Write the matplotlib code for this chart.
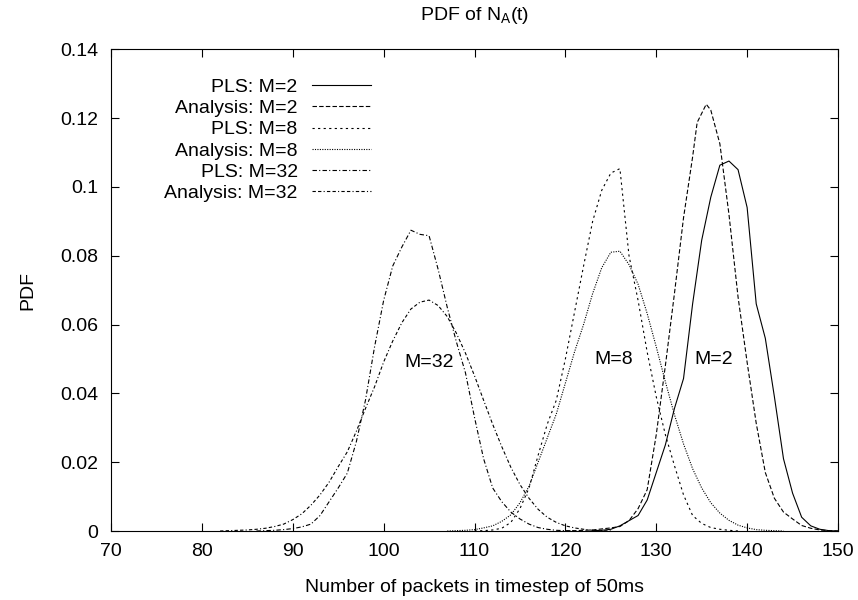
import matplotlib
matplotlib.use("Agg")
import matplotlib.pyplot as plt
from matplotlib.ticker import FuncFormatter, MultipleLocator

plt.rcParams["font.family"] = ["Liberation Sans", "DejaVu Sans"]

# PLS, M=2 (simulated histogram)
x_pls2 = list(range(123, 151))
y_pls2 = [0.0001, 0.0002, 0.0005, 0.0015, 0.003, 0.0045, 0.009, 0.017, 0.025,
          0.0356, 0.0443, 0.066, 0.0845, 0.097, 0.1063, 0.1075, 0.105, 0.094,
          0.066, 0.056, 0.039, 0.021, 0.011, 0.004, 0.0015, 0.0005, 0.0001, 0.0]

# Analysis, M=2
x_ana2 = [120, 121, 122, 123, 124, 125, 126, 127, 128, 129, 130, 131, 132, 133,
          134, 134.5, 135.5, 136, 137, 138, 139, 140, 141, 142, 143, 144, 145,
          146, 147, 148, 149, 150]
y_ana2 = [0.0, 0.0001, 0.0002, 0.0003, 0.0006, 0.0009, 0.0013, 0.003, 0.0065,
          0.012, 0.028, 0.048, 0.069, 0.091, 0.1087, 0.1187, 0.124, 0.1223,
          0.1125, 0.092, 0.068, 0.049, 0.0313, 0.017, 0.0095, 0.0055, 0.0035,
          0.0016, 0.0008, 0.0003, 0.0001, 0.0]

# PLS, M=8
x_pls8 = list(range(110, 140))
y_pls8 = [0.0, 0.0001, 0.0003, 0.0008, 0.0025, 0.0065, 0.0125, 0.022, 0.031,
          0.038, 0.050, 0.0635, 0.077, 0.090, 0.099, 0.104, 0.1053, 0.080,
          0.067, 0.052, 0.039, 0.028, 0.019, 0.0105, 0.0045, 0.0022, 0.001,
          0.0005, 0.0002, 0.0]

# Analysis, M=8
x_ana8 = list(range(107, 145))
y_ana8 = [0.0, 0.0001, 0.0002, 0.0004, 0.0009, 0.0015, 0.0028, 0.0047, 0.0082,
          0.013, 0.020, 0.027, 0.034, 0.043, 0.052, 0.060, 0.069, 0.0765, 0.081,
          0.0813, 0.0774, 0.0717, 0.0632, 0.0535, 0.0434, 0.0338, 0.0253,
          0.0181, 0.0125, 0.0082, 0.0052, 0.0031, 0.0017, 0.0009, 0.0004,
          0.0002, 0.0001, 0.0]

# PLS, M=32
x_pls32 = list(range(86, 122))
y_pls32 = [0.0, 0.0001, 0.0002, 0.0004, 0.0007, 0.0012, 0.002, 0.0045, 0.0085,
           0.0125, 0.0168, 0.026, 0.038, 0.0535, 0.067, 0.077, 0.0825, 0.0874,
           0.0862, 0.0858, 0.076, 0.065, 0.055, 0.046, 0.033, 0.021, 0.0125,
           0.0085, 0.0055, 0.0035, 0.002, 0.001, 0.0005, 0.0002, 0.0001, 0.0]

# Analysis, M=32
x_ana32 = list(range(82, 126))
y_ana32 = [0.0, 0.0001, 0.0002, 0.0003, 0.0005, 0.0008, 0.0013, 0.002, 0.0033,
           0.005, 0.0075, 0.0105, 0.0142, 0.0187, 0.023, 0.029, 0.0356, 0.0419,
           0.0491, 0.0552, 0.0605, 0.0645, 0.0665, 0.0671, 0.0655, 0.0623,
           0.0575, 0.0517, 0.0451, 0.038, 0.031, 0.0245, 0.0185, 0.0135,
           0.0095, 0.0063, 0.004, 0.0025, 0.0015, 0.0009, 0.0005, 0.0002,
           0.0001, 0.0]

series = [
    ("PLS: M=2", x_pls2, y_pls2, "-"),
    ("Analysis: M=2", x_ana2, y_ana2, (0, (4, 2))),
    ("PLS: M=8", x_pls8, y_pls8, (0, (2, 3))),
    ("Analysis: M=8", x_ana8, y_ana8, (0, (1, 1.2))),
    ("PLS: M=32", x_pls32, y_pls32, (0, (4, 2, 1, 2))),
    ("Analysis: M=32", x_ana32, y_ana32, (0, (3, 2, 3, 2, 1, 2))),
]

labels_m = ["M=32", "M=8", "M=2"]
labels_x = [105.0, 125.3, 136.3]
labels_y = [0.049, 0.0497, 0.0497]

fig = plt.figure(figsize=(8.58, 6.0), dpi=100)
ax = fig.add_axes([0.1294, 0.115, 0.8473, 0.803])

for name, xs, ys, ls in series:
    ax.plot(xs, ys, color="black", lw=0.8, linestyle=ls, label=name)

for txt, lx, ly in zip(labels_m, labels_x, labels_y):
    ax.text(lx, ly, txt, ha="center", va="center", fontsize=14)

ax.set_xlim(70, 150)
ax.set_ylim(0, 0.14)
ax.xaxis.set_major_locator(MultipleLocator(10))
ax.yaxis.set_major_locator(MultipleLocator(0.02))
ax.yaxis.set_major_formatter(FuncFormatter(lambda v, p: "%g" % round(v, 4)))
ax.tick_params(direction="in", length=6, width=0.8, top=True, right=True,
               labelsize=14, pad=9)
for sp in ax.spines.values():
    sp.set_linewidth(0.8)

ax.set_title("PDF of N$_\\mathregular{A}$(t)", fontsize=14, pad=21)
ax.set_xlabel("Number of packets in timestep of 50ms", fontsize=14, labelpad=13)
ax.set_ylabel("PDF", fontsize=14, labelpad=17)

ax.legend(loc="upper right", bbox_to_anchor=(0.357, 0.94), frameon=False,
          markerfirst=False, fontsize=14, handlelength=3.0, handletextpad=0.75,
          labelspacing=0.19, borderpad=0, borderaxespad=0)

fig.savefig("out.png", dpi=100)
